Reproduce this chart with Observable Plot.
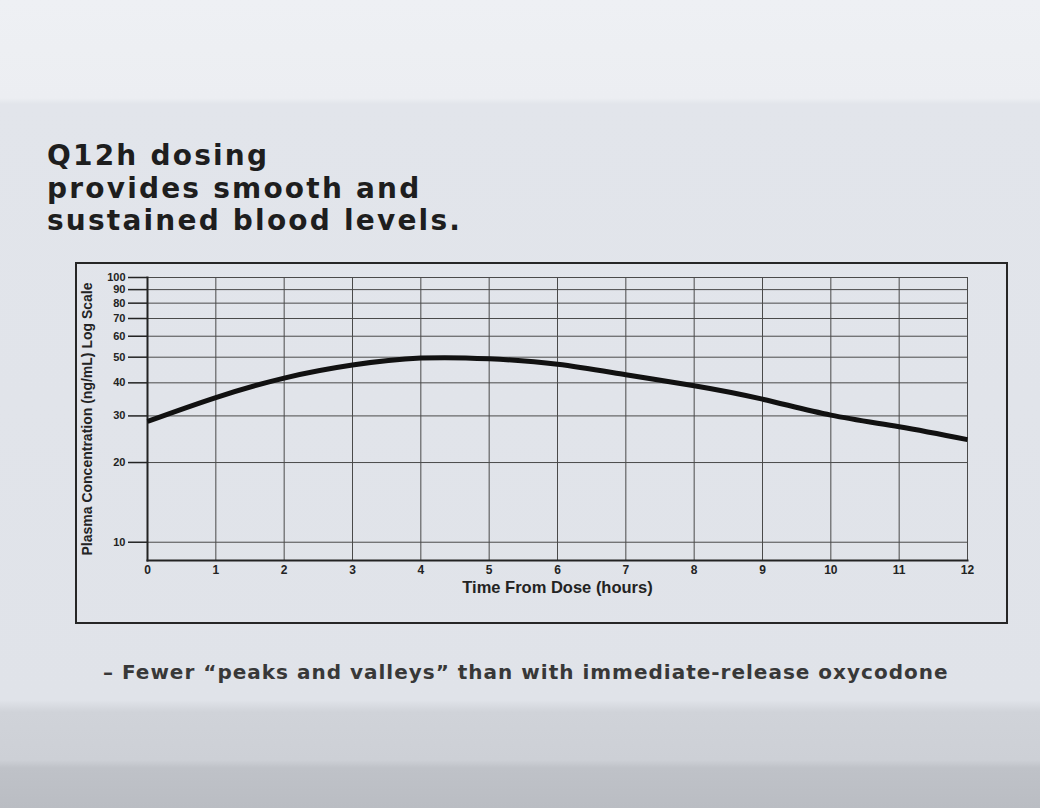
<!DOCTYPE html>
<html>
<head>
<meta charset="utf-8">
<script src="https://cdn.jsdelivr.net/npm/d3@7"></script>
<script src="https://cdn.jsdelivr.net/npm/@observablehq/plot@0.6"></script>
<style>
html, body { margin: 0; padding: 0; }
body {
  width: 1040px; height: 808px; overflow: hidden; position: relative;
  background: linear-gradient(to bottom, #eef0f4 0px, #eceef2 98px, #e2e5eb 104px, #e0e3e9 700px, #d0d3d9 712px, #cdd0d6 760px, #bfc2c8 768px, #babdc3 808px);
  font-family: "DejaVu Sans", sans-serif;
}
#title {
  position: absolute; left: 47px; top: 140px;
  font-weight: bold; font-size: 28px; line-height: 32.5px; color: #1e1e1e;
  letter-spacing: 2.2px;
}
#frame {
  position: absolute; left: 75px; top: 262px; width: 929px; height: 358px;
  border: 2px solid #262626;
}
#chart { position: absolute; left: 75px; top: 262px; }
#caption {
  position: absolute; left: 103px; top: 660px;
  font-weight: bold; font-size: 20px; line-height: 24px; color: #383838;
  letter-spacing: 1px; white-space: nowrap;
}
</style>
</head>
<body>
<div id="title">Q12h dosing<br>provides smooth and<br>sustained blood levels.</div>
<div id="frame"></div>
<div id="chart"></div>
<div id="caption">– Fewer “peaks and valleys” than with immediate-release oxycodone</div>
<script>
// Data
const hours = [0, 1, 2, 3, 4, 5, 6, 7, 8, 9, 10, 11, 12];
const concentration = [28.6, 35.2, 41.7, 46.7, 49.6, 49.3, 47.0, 42.9, 39.0, 34.7, 30.2, 27.3, 24.4];
const yTicks = [10, 20, 30, 40, 50, 60, 70, 80, 90, 100];
const xTicks = [0, 1, 2, 3, 4, 5, 6, 7, 8, 9, 10, 11, 12];
const xLabel = "Time From Dose (hours)";
const yLabel = "Plasma Concentration (ng/mL) Log Scale";

const rows = hours.map((h, i) => ({h, c: concentration[i]}));

const gridColor = "#4a4a4a";
const inkColor = "#232323";

const chart = Plot.plot({
  width: 933,
  height: 360,
  marginLeft: 72,
  marginRight: 41,
  marginTop: 15,
  marginBottom: 62,
  style: {
    background: "transparent",
    fontFamily: "'Liberation Sans', Arial, sans-serif",
    fontWeight: "bold",
    color: inkColor,
    overflow: "visible"
  },
  x: {domain: [0, 12]},
  y: {type: "log", domain: [8.53, 100]},
  marks: [
    Plot.gridX(xTicks, {stroke: gridColor, strokeOpacity: 1, strokeWidth: 1}),
    Plot.gridY(yTicks, {stroke: gridColor, strokeOpacity: 1, strokeWidth: 1}),
    Plot.axisY(yTicks, {
      tickSize: 19, tickPadding: 3, tickFormat: () => "",
      stroke: inkColor, strokeWidth: 1.5,
      label: yLabel, labelAnchor: "center", labelOffset: 65, labelArrow: "none"
    }),
    Plot.text(yTicks, {
      y: d => d, text: d => String(d), frameAnchor: "left", dx: -22,
      textAnchor: "end", fontSize: 11, fontWeight: "bold", fill: inkColor
    }),
    Plot.axisX(xTicks, {
      tickSize: 0, tickPadding: 5, tickFormat: d => String(d),
      fontSize: 12,
      label: xLabel, labelAnchor: "center", labelOffset: 32, labelArrow: "none"
    }),
    Plot.frame({anchor: "left", stroke: inkColor, strokeWidth: 2}),
    Plot.frame({anchor: "bottom", stroke: inkColor, strokeWidth: 2}),
    Plot.line(rows, {x: "h", y: "c", curve: "natural", stroke: "#111", strokeWidth: 5, strokeLinecap: "butt"})
  ]
});
// enlarge the axis title fonts
chart.querySelectorAll("g[aria-label='y-axis label'] text").forEach(t => t.setAttribute("font-size", "14"));
chart.querySelectorAll("g[aria-label='x-axis label'] text").forEach(t => t.setAttribute("font-size", "16.5"));
document.getElementById("chart").appendChild(chart);
</script>
</body>
</html>
